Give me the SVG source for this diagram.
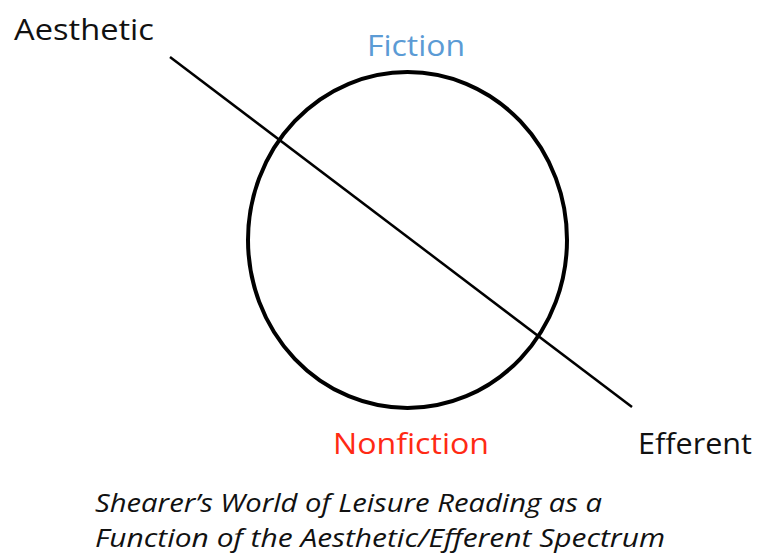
<svg xmlns="http://www.w3.org/2000/svg" width="757" height="554" viewBox="0 0 757 554">
<style>
.lbl{font-family:"Open Sans","Liberation Sans",sans-serif;font-size:29px;}
.cap{font-family:"Open Sans","Liberation Sans",sans-serif;font-size:25px;font-style:italic;fill:#111;}
</style>
<rect width="757" height="554" fill="#ffffff"/>
<g id="circle">
<ellipse cx="407.5" cy="240" rx="159.5" ry="168" fill="none" stroke="#000" stroke-width="4"/>
</g>
<g id="connectors">
<line x1="170" y1="57" x2="632" y2="407" stroke="#000" stroke-width="2.5"/>
</g>
<g id="aesthetic"><text class="lbl" x="14" y="40" fill="#111" textLength="140" lengthAdjust="spacingAndGlyphs">Aesthetic</text></g>
<g id="fiction"><text class="lbl" x="367" y="56" fill="#5B9BD5" textLength="98" lengthAdjust="spacingAndGlyphs">Fiction</text></g>
<g id="nonfiction"><text class="lbl" x="333" y="454" fill="#FF2A14" textLength="156" lengthAdjust="spacingAndGlyphs">Nonfiction</text></g>
<g id="efferent"><text class="lbl" x="638" y="454" fill="#111" textLength="114" lengthAdjust="spacingAndGlyphs">Efferent</text></g>
<g id="caption">
<text class="cap" x="95" y="512" textLength="507" lengthAdjust="spacingAndGlyphs">Shearer’s World of Leisure Reading as a</text>
<text class="cap" x="95" y="547" textLength="570" lengthAdjust="spacingAndGlyphs">Function of the Aesthetic/Efferent Spectrum</text>
</g>
</svg>
